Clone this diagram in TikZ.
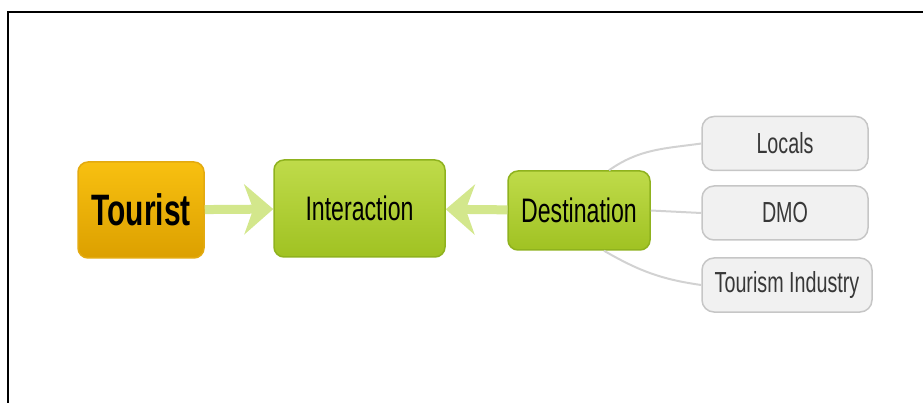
\documentclass[tikz,border=0pt]{standalone}
\usepackage{fontspec}
\setmainfont{Liberation Sans}[FakeStretch=0.68]
\usetikzlibrary{arrows.meta,positioning}

\definecolor{tourtop}{HTML}{F8C010}
\definecolor{tourbot}{HTML}{DCA000}
\definecolor{tourline}{HTML}{E3AA10}
\definecolor{greentop}{HTML}{BFDB4A}
\definecolor{greenbot}{HTML}{A0C222}
\definecolor{greenline}{HTML}{8FB21E}
\definecolor{leaffill}{HTML}{F1F1F1}
\definecolor{leafline}{HTML}{C6C6C6}
\definecolor{flowcol}{HTML}{D3E78C}
\definecolor{linkcol}{HTML}{D2D2D2}

\begin{document}
\begin{tikzpicture}[x=1pt,y=-1pt,
			tourist node/.style={rectangle,rounded corners=10pt,draw=tourline,line width=1.5pt,top color=tourtop,bottom color=tourbot,minimum width=126pt,minimum height=96pt,inner sep=0pt,font=\fontsize{44}{50}\selectfont\bfseries},
			main node/.style={rectangle,rounded corners=10pt,draw=greenline,line width=1.5pt,top color=greentop,bottom color=greenbot,inner sep=0pt,font=\fontsize{34}{40}\selectfont},
			leaf node/.style={rectangle,rounded corners=12pt,draw=leafline,line width=1.5pt,fill=leaffill,minimum height=54pt,inner sep=0pt,text=black!78,font=\fontsize{29}{34}\selectfont},
			flow/.style={draw=flowcol,line width=9pt,-{Stealth[length=29pt,width=50pt,inset=9pt]}},
			link/.style={draw=linkcol,line width=2pt}
			]

			\def \lw {166pt};

			\useasboundingbox (0,0) rectangle (923,403);
			% frame
			\draw[line width=2pt] (8,403) -- (8,12) -- (923,12);

			\node[tourist node] at (141,210) (tourist) {Tourist};
			\node[main node,minimum width=171pt,minimum height=97pt] at (359.5,208.5) (interaction) {Interaction};
			\node[main node,minimum width=142pt,minimum height=79pt] at (579,210.5) (destination) {Destination};

			\node[leaf node,minimum width=\lw] at (785,143.5) (locals) {Locals};
			\node[leaf node,minimum width=\lw] at (785,213) (dmo) {DMO};
			\node[leaf node,minimum width=170pt] at (787,285) (industry) {Tourism Industry};

			\draw[flow] (tourist) -- (interaction);
			\draw[flow] (destination) -- (interaction);

			\draw[link] ([xshift=30pt]destination.north) to[out=35,in=188] (locals.west);
			\draw[link] (destination.east) -- (dmo.west);
			\draw[link] ([xshift=25pt]destination.south) to[out=-30,in=172] (industry.west);
		\end{tikzpicture}
\end{document}
